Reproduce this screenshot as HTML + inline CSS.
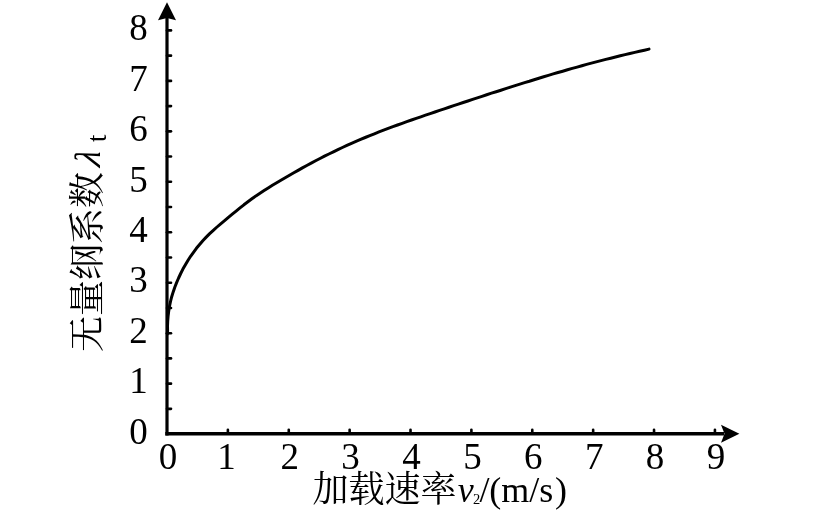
<!DOCTYPE html>
<html lang="zh"><head><meta charset="utf-8"><title>chart</title>
<style>
html,body{margin:0;padding:0;background:#fff;}
svg{display:block;}
text{font-family:"Liberation Serif","Noto Serif CJK SC",serif;fill:#000;}
.n{font-size:37px;}
.c{font-size:36px;}
</style></head><body>
<svg width="832" height="518" viewBox="0 0 832 518">
<rect width="832" height="518" fill="#fff"/>
<line x1="167.0" y1="16" x2="167.0" y2="435.55" stroke="#000" stroke-width="3.2"/>
<line x1="165.3" y1="433.8" x2="724" y2="433.8" stroke="#000" stroke-width="3.5"/>
<path d="M167.0,2.2 L176.0,20.2 L167.0,18 L158.0,20.2 Z" fill="#000"/>
<path d="M739.4,433.8 L721,424.8 L724.5,433.8 L721,442.8 Z" fill="#000"/>
<line x1="167.0" y1="408.87" x2="171.0" y2="408.87" stroke="#000" stroke-width="2.6" stroke-linecap="round"/>
<line x1="167.0" y1="383.64" x2="171.0" y2="383.64" stroke="#000" stroke-width="2.6" stroke-linecap="round"/>
<line x1="167.0" y1="358.41" x2="171.0" y2="358.41" stroke="#000" stroke-width="2.6" stroke-linecap="round"/>
<line x1="167.0" y1="333.18" x2="171.0" y2="333.18" stroke="#000" stroke-width="2.6" stroke-linecap="round"/>
<line x1="167.0" y1="307.95" x2="171.0" y2="307.95" stroke="#000" stroke-width="2.6" stroke-linecap="round"/>
<line x1="167.0" y1="282.72" x2="171.0" y2="282.72" stroke="#000" stroke-width="2.6" stroke-linecap="round"/>
<line x1="167.0" y1="257.49" x2="171.0" y2="257.49" stroke="#000" stroke-width="2.6" stroke-linecap="round"/>
<line x1="167.0" y1="232.26" x2="171.0" y2="232.26" stroke="#000" stroke-width="2.6" stroke-linecap="round"/>
<line x1="167.0" y1="207.03" x2="171.0" y2="207.03" stroke="#000" stroke-width="2.6" stroke-linecap="round"/>
<line x1="167.0" y1="181.80" x2="171.0" y2="181.80" stroke="#000" stroke-width="2.6" stroke-linecap="round"/>
<line x1="167.0" y1="156.57" x2="171.0" y2="156.57" stroke="#000" stroke-width="2.6" stroke-linecap="round"/>
<line x1="167.0" y1="131.34" x2="171.0" y2="131.34" stroke="#000" stroke-width="2.6" stroke-linecap="round"/>
<line x1="167.0" y1="106.11" x2="171.0" y2="106.11" stroke="#000" stroke-width="2.6" stroke-linecap="round"/>
<line x1="167.0" y1="80.88" x2="171.0" y2="80.88" stroke="#000" stroke-width="2.6" stroke-linecap="round"/>
<line x1="167.0" y1="55.65" x2="171.0" y2="55.65" stroke="#000" stroke-width="2.6" stroke-linecap="round"/>
<line x1="167.0" y1="30.42" x2="171.0" y2="30.42" stroke="#000" stroke-width="2.6" stroke-linecap="round"/>
<line x1="227.88" y1="433.8" x2="227.88" y2="429.8" stroke="#000" stroke-width="2.6" stroke-linecap="round"/>
<line x1="288.76" y1="433.8" x2="288.76" y2="429.8" stroke="#000" stroke-width="2.6" stroke-linecap="round"/>
<line x1="349.64" y1="433.8" x2="349.64" y2="429.8" stroke="#000" stroke-width="2.6" stroke-linecap="round"/>
<line x1="410.52" y1="433.8" x2="410.52" y2="429.8" stroke="#000" stroke-width="2.6" stroke-linecap="round"/>
<line x1="471.40" y1="433.8" x2="471.40" y2="429.8" stroke="#000" stroke-width="2.6" stroke-linecap="round"/>
<line x1="532.28" y1="433.8" x2="532.28" y2="429.8" stroke="#000" stroke-width="2.6" stroke-linecap="round"/>
<line x1="593.16" y1="433.8" x2="593.16" y2="429.8" stroke="#000" stroke-width="2.6" stroke-linecap="round"/>
<line x1="654.04" y1="433.8" x2="654.04" y2="429.8" stroke="#000" stroke-width="2.6" stroke-linecap="round"/>
<line x1="714.92" y1="433.8" x2="714.92" y2="429.8" stroke="#000" stroke-width="2.6" stroke-linecap="round"/>
<text class="n" x="138.5" y="443.8" text-anchor="middle">0</text>
<text class="n" x="138.5" y="393.3" text-anchor="middle">1</text>
<text class="n" x="138.5" y="342.9" text-anchor="middle">2</text>
<text class="n" x="138.5" y="292.4" text-anchor="middle">3</text>
<text class="n" x="138.5" y="242.0" text-anchor="middle">4</text>
<text class="n" x="138.5" y="191.5" text-anchor="middle">5</text>
<text class="n" x="138.5" y="141.0" text-anchor="middle">6</text>
<text class="n" x="138.5" y="90.6" text-anchor="middle">7</text>
<text class="n" x="138.5" y="40.1" text-anchor="middle">8</text>
<text class="n" x="168.0" y="468.7" text-anchor="middle">0</text>
<text class="n" x="226.4" y="468.7" text-anchor="middle">1</text>
<text class="n" x="289.8" y="468.7" text-anchor="middle">2</text>
<text class="n" x="350.6" y="468.7" text-anchor="middle">3</text>
<text class="n" x="411.5" y="468.7" text-anchor="middle">4</text>
<text class="n" x="472.4" y="468.7" text-anchor="middle">5</text>
<text class="n" x="533.3" y="468.7" text-anchor="middle">6</text>
<text class="n" x="594.2" y="468.7" text-anchor="middle">7</text>
<text class="n" x="655.0" y="468.7" text-anchor="middle">8</text>
<text class="n" x="715.9" y="468.7" text-anchor="middle">9</text>
<path d="M167.3,334.0 L167.6,331.0 L167.5,326.0 L167.7,321.1 L168.1,316.1 L168.7,311.2 L169.5,306.3 L170.5,301.5 L171.7,296.7 L173.2,291.9 L174.8,287.2 L176.6,282.6 L178.6,278.0 L180.7,273.5 L182.9,269.1 L185.4,264.7 L187.9,260.5 L190.6,256.3 L193.5,252.3 L196.4,248.3 L199.6,244.5 L202.8,240.7 L206.2,237.1 L209.7,233.6 L213.3,230.3 L217.0,227.0 L220.7,223.8 L224.6,220.6 L228.4,217.4 L232.3,214.2 L236.1,211.1 L240.0,207.9 L243.9,204.8 L247.9,201.8 L251.9,198.8 L255.9,195.9 L260.0,193.2 L264.1,190.5 L268.2,187.9 L272.4,185.3 L276.7,182.8 L280.9,180.3 L285.2,177.8 L289.5,175.3 L293.8,172.8 L298.1,170.4 L302.4,167.9 L306.8,165.5 L311.2,163.2 L315.6,160.8 L320.0,158.5 L324.5,156.2 L328.9,154.0 L333.4,151.8 L337.9,149.6 L342.4,147.5 L346.9,145.4 L351.5,143.3 L356.0,141.4 L360.6,139.4 L365.2,137.5 L369.8,135.6 L374.4,133.8 L379.0,131.9 L383.6,130.2 L388.2,128.4 L392.9,126.7 L397.5,125.0 L402.2,123.3 L406.8,121.6 L411.5,120.0 L416.2,118.4 L420.8,116.8 L425.5,115.2 L430.2,113.6 L434.9,112.0 L439.6,110.4 L444.3,108.8 L449.0,107.3 L453.7,105.7 L458.4,104.1 L463.2,102.5 L467.9,101.0 L472.6,99.4 L477.3,97.9 L482.0,96.3 L486.7,94.8 L491.5,93.2 L496.2,91.7 L500.9,90.2 L505.7,88.6 L510.4,87.1 L515.1,85.6 L519.9,84.1 L524.6,82.6 L529.4,81.2 L534.1,79.7 L538.9,78.2 L543.7,76.8 L548.4,75.4 L553.2,73.9 L558.0,72.5 L562.7,71.2 L567.5,69.8 L572.3,68.4 L577.1,67.1 L581.9,65.7 L586.6,64.4 L591.4,63.1 L596.2,61.9 L601.0,60.6 L605.8,59.4 L610.7,58.2 L615.5,57.0 L620.3,55.8 L625.1,54.6 L629.9,53.5 L634.8,52.4 L639.6,51.3 L644.4,50.2 L649.0,49.1" fill="none" stroke="#000" stroke-width="3" stroke-linecap="round" stroke-linejoin="round"/>
<text class="c" x="312.5" y="502.2">加载速率</text>
<text class="c" x="457.7" y="502.2" font-style="italic">v</text>
<text x="473" y="503.6" style="font-size:14.5px">2</text>
<text class="c" x="479.5" y="502.2">/</text>
<text class="c" x="489.3" y="502.2">(m/s<tspan dx="1.6">)</tspan></text>
<text class="c" transform="translate(100.3,352) rotate(-90)">无量纲系数</text>
<text transform="translate(100.4,167.5) rotate(-90) skewX(-11)" style="font-size:36.5px;font-style:italic">λ</text>
<text transform="translate(105.6,142.0) rotate(-90)" style="font-size:26.5px">t</text>
</svg></body></html>
